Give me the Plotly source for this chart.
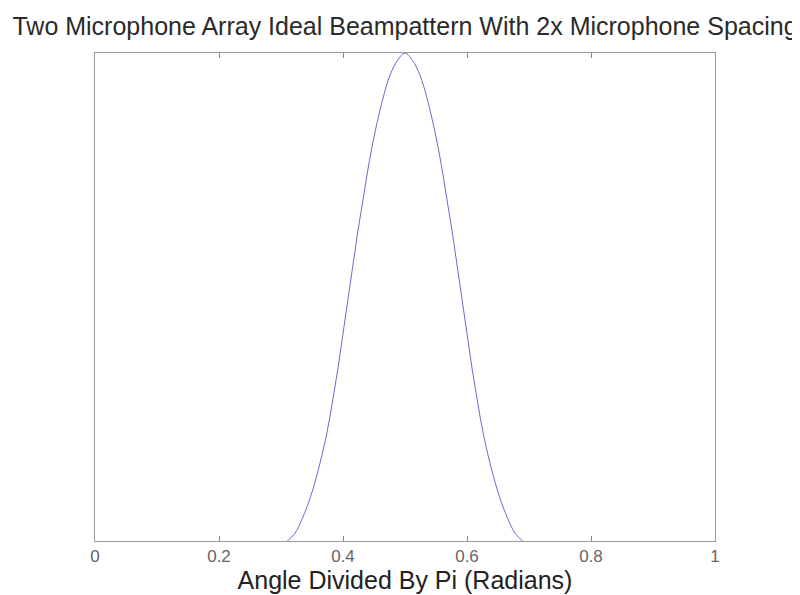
import plotly.graph_objects as go

# Angle / pi and normalised beampattern response
angle = [0.310, 0.322, 0.334, 0.348, 0.361, 0.373, 0.383, 0.392, 0.400, 0.408,
         0.416, 0.424, 0.433, 0.442, 0.452, 0.464, 0.476, 0.488, 0.500,
         0.512, 0.524, 0.536, 0.548, 0.558, 0.567, 0.576, 0.584, 0.592,
         0.600, 0.608, 0.617, 0.627, 0.639, 0.652, 0.666, 0.678, 0.690]
response = [0.000, 0.015, 0.045, 0.092, 0.150, 0.215, 0.285, 0.355, 0.425, 0.495,
            0.565, 0.635, 0.705, 0.775, 0.840, 0.905, 0.955, 0.985, 1.000,
            0.985, 0.955, 0.905, 0.840, 0.775, 0.705, 0.635, 0.565, 0.495,
            0.425, 0.355, 0.285, 0.215, 0.150, 0.092, 0.045, 0.015, 0.000]

x_ticks = [0, 0.2, 0.4, 0.6, 0.8, 1]
x_tick_text = ["0", "0.2", "0.4", "0.6", "0.8", "1"]

title_text = "Two Microphone Array Ideal Beampattern With 2x Microphone Spacing"
x_label = "Angle Divided By Pi (Radians)"

fig = go.Figure()
fig.add_trace(go.Scatter(x=angle, y=response, mode="lines",
                         line=dict(color="#6a6ad0", width=1),
                         line_shape="spline", hoverinfo="skip"))

fig.update_layout(
    width=800, height=595,
    margin=dict(l=87, r=93, t=45, b=62),
    paper_bgcolor="white", plot_bgcolor="white",
    showlegend=False,
    font=dict(family="Liberation Sans, Arial, sans-serif", color="#222"),
    title=dict(text=title_text, x=0.5, xanchor="center", xref="paper",
               y=1 - 18.5 / 595, yanchor="middle", yref="container",
               font=dict(size=25, color="#2a2a2a")),
    xaxis=dict(range=[0, 1], tickvals=x_ticks, ticktext=x_tick_text,
               ticks="inside", ticklen=5, tickcolor="#888", tickwidth=1,
               showline=True, linecolor="#999", linewidth=1, mirror="ticks",
               showgrid=False, zeroline=False,
               tickfont=dict(size=17, color="#666"),
               title=dict(text=x_label, standoff=2, font=dict(size=25, color="#222"))),
    yaxis=dict(range=[0, 1], showticklabels=False, ticks="",
               showline=True, linecolor="#999", linewidth=1, mirror=True,
               showgrid=False, zeroline=False),
)

fig.write_html("out.html")
